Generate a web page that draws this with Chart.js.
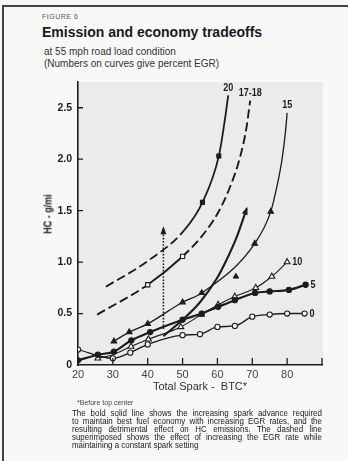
<!DOCTYPE html>
<html>
<head>
<meta charset="utf-8">
<script src="https://cdn.jsdelivr.net/npm/chart.js@4.4.0/dist/chart.umd.min.js"></script>
<style>
  html, body { margin: 0; padding: 0; background: #f8f8f6; }
  body { width: 348px; height: 461px; position: relative; overflow: hidden;
         font-family: 'Liberation Sans', Arial, sans-serif; color: #1a1a1a; }
  #frameTop { position: absolute; left: 2px; top: 5px; width: 346px; height: 2px; background: #444; }
  #frameLeft { position: absolute; left: 2px; top: 5px; width: 1.5px; height: 456px; background: #444; }
  #fig { position: absolute; left: 42px; top: 13px; font-size: 7px; letter-spacing: 0.5px; color: #555; }
  #title { position: absolute; left: 42px; top: 24px; font-size: 14px; font-weight: bold; white-space: nowrap; }
  #sub { position: absolute; left: 44px; top: 46px; font-size: 10px; line-height: 12px; color: #333; white-space: nowrap; }
  #ytitle { position: absolute; left: 48px; top: 214px; transform: translate(-50%, -50%) rotate(-90deg) scaleX(0.9);
            font-size: 10px; font-weight: bold; white-space: nowrap; }
  #note { position: absolute; left: 77px; top: 399px; font-size: 7px; color: #444; }
  #caption { position: absolute; left: 72px; top: 409px; width: 284px; font-size: 9px; line-height: 8.1px;
             transform: scaleX(0.88); transform-origin: 0 0; }
  #caption div { white-space: nowrap; }
  #caption div.j { text-align: justify; text-align-last: justify; }
  canvas { position: absolute; left: 0; top: 0; }
</style>
</head>
<body>
<div id="frameTop"></div>
<div id="frameLeft"></div>
<div id="fig">FIGURE 6</div>
<div id="title">Emission and economy tradeoffs</div>
<div id="sub">at 55 mph road load condition<br>(Numbers on curves give percent EGR)</div>
<canvas id="myChart" width="348" height="461"></canvas>
<div id="ytitle">HC - g/mi</div>
<div id="note">*Before top center</div>
<div id="caption">
  <div class="j">The bold solid line shows the increasing spark advance required</div>
  <div class="j">to maintain best fuel economy with increasing EGR rates, and the</div>
  <div class="j">resulting detrimental effect on HC emissions. The dashed line</div>
  <div class="j">superimposed shows the effect of increasing the EGR rate while</div>
  <div>maintaining a constant spark setting</div>
</div>
<script>
// total spark (deg BTC) and HC (g/mi), one pair of arrays per curve
const egr0X = [20, 30, 35, 40, 50, 55, 60, 65, 70, 75, 80, 85];
const egr0Y = [0.15, 0.065, 0.12, 0.20, 0.29, 0.30, 0.37, 0.38, 0.47, 0.49, 0.50, 0.50];

const egr5X = [20, 25.7, 30.3, 35.3, 40.7, 50, 55.5, 60.2, 65, 70.8, 75, 80.5, 85.3];
const egr5Y = [0.045, 0.10, 0.13, 0.24, 0.32, 0.44, 0.50, 0.565, 0.63, 0.70, 0.715, 0.73, 0.78];

const egr10X = [25.7, 30, 35.2, 40.2, 49.5, 55.4, 60.2, 65, 71, 75.6, 80];
const egr10Y = [0.065, 0.10, 0.18, 0.25, 0.37, 0.49, 0.585, 0.665, 0.75, 0.86, 1.0];

const egr15X = [30.3, 34.7, 40, 50, 55.5, 70.7, 75.3, 77.1, 78.5, 79.5, 80];
const egr15Y = [0.23, 0.32, 0.40, 0.61, 0.70, 1.18, 1.49, 1.74, 1.99, 2.26, 2.45];

const egr1718X = [25.5, 40, 50, 55.5, 60, 63.5, 66.5, 68.3, 69.4];
const egr1718Y = [0.49, 0.78, 1.055, 1.25, 1.47, 1.72, 2.02, 2.3, 2.57];

const egr20X = [28, 40, 50.5, 55.7, 60.4, 61.9, 63.1];
const egr20Y = [0.76, 1.01, 1.31, 1.58, 2.03, 2.33, 2.62];

// best economy spark locus (bold line with arrow)
const bestX = [44.5, 50, 55, 60, 62.6, 65.5, 68.4];
const bestY = [0.28, 0.44, 0.61, 0.85, 1.02, 1.24, 1.52];

// constant spark, increasing EGR (dotted arrow)
const constX = [44.5, 44.5];
const constY = [0.35, 1.33];

// lone point
const strayX = [65.3];
const strayY = [0.86];

const xTicks = [20, 30, 40, 50, 60, 70, 80];
const yTicks = [0, 0.5, 1.0, 1.5, 2.0, 2.5];

const INK = '#1c1c1c';
const FONT = "'Liberation Sans', Arial, sans-serif";
const pts = (xs, ys) => xs.map((x, i) => ({x: x, y: ys[i]}));
const DASH = [9, 4];

const background = {
  id: 'background',
  beforeDraw(chart) {
    const {ctx, chartArea: a} = chart;
    ctx.save();
    ctx.fillStyle = '#ebebea';
    ctx.fillRect(a.left, a.top, a.right - a.left + 1, a.bottom - a.top);
    ctx.restore();
  }
};

const innerTicks = {
  id: 'innerTicks',
  afterDraw(chart) {
    const {ctx, scales: {x, y}} = chart;
    ctx.save();
    ctx.strokeStyle = INK;
    ctx.lineWidth = 1.3;
    ctx.beginPath();
    x.ticks.forEach(t => {
      if (t.value === x.min) return;
      const px = x.getPixelForValue(t.value);
      ctx.moveTo(px, y.bottom); ctx.lineTo(px, y.bottom - 7);
    });
    y.ticks.forEach(t => {
      if (t.value === 0) return;
      const py = y.getPixelForValue(t.value);
      ctx.moveTo(x.left, py); ctx.lineTo(x.left + 5, py);
    });
    ctx.stroke();
    ctx.restore();
  }
};

const arrows = {
  id: 'arrows',
  afterDatasetsDraw(chart) {
    const ctx = chart.ctx;
    chart.data.datasets.forEach((ds, i) => {
      if (!ds.arrow) return;
      const pts = chart.getDatasetMeta(i).data;
      const end = pts[pts.length - 1];
      const prev = pts[pts.length - 2];
      let fx = prev.x, fy = prev.y;
      if (end.cp1x !== undefined && (end.cp1x !== end.x || end.cp1y !== end.y)) { fx = end.cp1x; fy = end.cp1y; }
      const ang = Math.atan2(end.y - fy, end.x - fx);
      const len = 8, half = 3;
      ctx.save();
      ctx.fillStyle = INK;
      ctx.translate(end.x, end.y);
      ctx.rotate(ang);
      ctx.beginPath();
      ctx.moveTo(2, 0);
      ctx.lineTo(2 - len, -half);
      ctx.lineTo(2 - len, half);
      ctx.closePath();
      ctx.fill();
      ctx.restore();
    });
  }
};

const curveTags = {
  id: 'curveTags',
  afterDatasetsDraw(chart) {
    const ctx = chart.ctx;
    chart.data.datasets.forEach((ds, i) => {
      if (!ds.tag) return;
      const pts = chart.getDatasetMeta(i).data;
      const end = pts[pts.length - 1];
      ctx.save();
      ctx.fillStyle = INK;
      ctx.font = 'bold 11px ' + FONT;
      if (ds.tagAt === 'top') {
        ctx.translate(end.x, end.y - 2);
        ctx.scale(0.82, 1);
        ctx.textAlign = 'center';
        ctx.textBaseline = 'bottom';
      } else {
        ctx.translate(end.x + 5, end.y);
        ctx.scale(0.82, 1);
        ctx.textAlign = 'left';
        ctx.textBaseline = 'middle';
      }
      ctx.fillText(ds.tag, 0, 0);
      ctx.restore();
    });
  }
};

const base = {showLine: true, borderColor: INK, pointBorderColor: INK, cubicInterpolationMode: 'monotone', pointBorderWidth: 1.1};

new Chart(document.getElementById('myChart').getContext('2d'), {
  type: 'scatter',
  data: {
    datasets: [
      Object.assign({}, base, {
        label: '0', tag: '0', data: pts(egr0X, egr0Y), borderWidth: 1.4,
        pointStyle: 'circle', pointRadius: 2.6, pointBackgroundColor: '#f4f4f2'
      }),
      Object.assign({}, base, {
        label: '5', tag: '5', data: pts(egr5X, egr5Y), borderWidth: 2.2,
        pointStyle: 'circle', pointRadius: 2.6, pointBackgroundColor: INK
      }),
      Object.assign({}, base, {
        label: '10', tag: '10', data: pts(egr10X, egr10Y), borderWidth: 1.1,
        pointStyle: 'triangle', pointRadius: ctx => ctx.dataIndex === 1 ? 0 : 3.4, pointBackgroundColor: '#f4f4f2'
      }),
      Object.assign({}, base, {
        label: '15', tag: '15', tagAt: 'top', data: pts(egr15X, egr15Y), borderWidth: 1.3,
        pointStyle: 'triangle', pointRadius: ctx => ctx.dataIndex < 7 ? 3.2 : 0, pointBackgroundColor: INK
      }),
      Object.assign({}, base, {
        label: '17-18', tag: '17-18', tagAt: 'top', data: pts(egr1718X, egr1718Y), borderWidth: 1.9,
        pointStyle: 'rect', pointRadius: ctx => (ctx.dataIndex === 1 || ctx.dataIndex === 2) ? 3 : 0,
        pointBackgroundColor: '#f4f4f2',
        segment: {borderDash: ctx => ctx.p0DataIndex === 1 ? undefined : DASH}
      }),
      Object.assign({}, base, {
        label: '20', tag: '20', tagAt: 'top', data: pts(egr20X, egr20Y), borderWidth: 1.8,
        pointStyle: 'rect', pointRadius: ctx => (ctx.dataIndex === 3 || ctx.dataIndex === 4) ? 2.8 : 0,
        pointBackgroundColor: INK,
        segment: {borderDash: ctx => ctx.p1DataIndex <= 2 ? DASH : undefined}
      }),
      Object.assign({}, base, {
        label: 'best economy', arrow: true, data: pts(bestX, bestY), borderWidth: 2.1, pointRadius: 0
      }),
      Object.assign({}, base, {
        label: 'constant spark', arrow: true, data: pts(constX, constY), borderWidth: 1.6,
        borderDash: [1.6, 1.6], pointRadius: 0, cubicInterpolationMode: 'default', tension: 0
      }),
      {
        label: 'stray', data: pts(strayX, strayY), showLine: false, pointStyle: 'triangle',
        pointRadius: 3.2, pointBackgroundColor: INK, pointBorderColor: INK
      }
    ]
  },
  options: {
    responsive: false,
    animation: false,
    layout: {padding: {top: 82, right: 26, left: 0, bottom: 0}},
    plugins: {legend: {display: false}, tooltip: {enabled: false}},
    scales: {
      x: {
        type: 'linear', min: 20, max: 90,
        afterFit: s => { s.height = 96; },
        afterBuildTicks: s => { s.ticks = xTicks.concat([90]).map(v => ({value: v})); },
        grid: {drawOnChartArea: false, drawTicks: false},
        border: {color: INK, width: 1.6},
        ticks: {
          padding: 3, color: '#444', font: {family: FONT, size: 11},
          callback: v => xTicks.includes(v) ? String(v) : ''
        },
        title: {
          display: true, text: 'Total Spark -  BTC*', color: '#333',
          font: {family: FONT, size: 11}, padding: {top: 0, bottom: 67}
        }
      },
      y: {
        type: 'linear', min: 0, max: 2.75,
        afterFit: s => { s.width = 78; },
        afterBuildTicks: s => { s.ticks = yTicks.map(v => ({value: v})); },
        grid: {drawOnChartArea: false, drawTicks: false},
        border: {color: INK, width: 1.6},
        ticks: {
          padding: 6, color: INK, font: {family: FONT, size: 10.5, weight: 'bold'},
          callback: v => v === 0 ? '0' : v.toFixed(1)
        }
      }
    }
  },
  plugins: [background, innerTicks, arrows, curveTags]
});
</script>
</body>
</html>
